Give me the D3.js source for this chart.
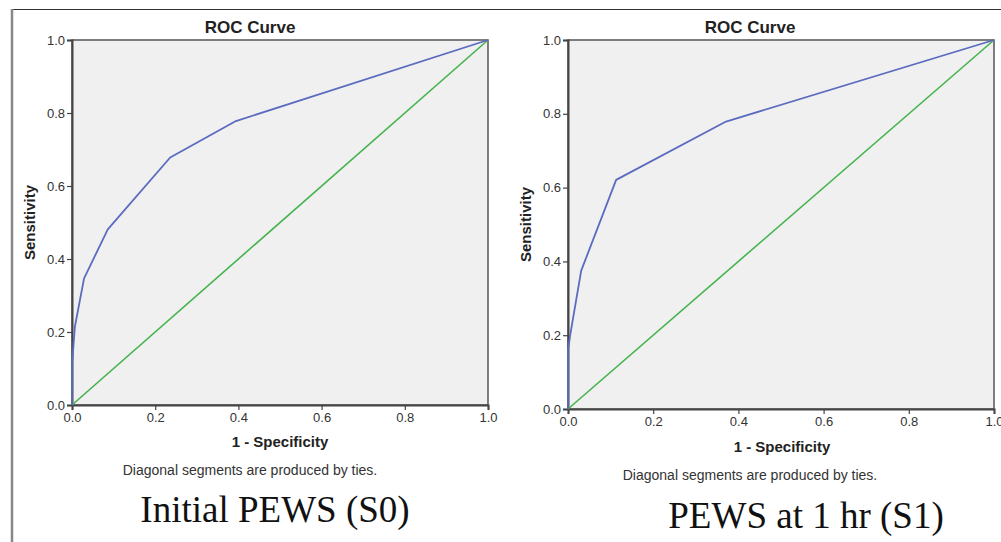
<!DOCTYPE html>
<html>
<head>
<meta charset="utf-8">
<script src="https://cdn.jsdelivr.net/npm/d3@7"></script>
<style>
  body { margin: 0; background: #fff; }
  svg { display: block; }
</style>
</head>
<body>
<svg id="canvas" width="1001" height="542"></svg>
<script>
// ticks shared by both axes
const tickValues = [0, 0.2, 0.4, 0.6, 0.8, 1.0];

// ROC points
const s0Fpr = [0, 0, 0.007, 0.029, 0.086, 0.236, 0.394, 1];
const s0Tpr = [0, 0.11, 0.215, 0.347, 0.481, 0.678, 0.778, 1];

const s1Fpr = [0, 0, 0.006, 0.031, 0.113, 0.371, 1];
const s1Tpr = [0, 0.16, 0.206, 0.375, 0.621, 0.779, 1];

const refLine = [0, 1];

const panelTitles = ['ROC Curve', 'ROC Curve'];
const captions = ['Initial PEWS (S0)', 'PEWS at 1 hr (S1)'];
const xLabel = '1 - Specificity';
const yLabel = 'Sensitivity';
const note = 'Diagonal segments are produced by ties.';

const svg = d3.select('#canvas');

// outer frame of the figure
svg.append('line')
  .attr('x1', 12).attr('x2', 1001).attr('y1', 9.5).attr('y2', 9.5)
  .attr('stroke', '#333').attr('stroke-width', 1);
svg.append('line')
  .attr('x1', 12).attr('x2', 12).attr('y1', 9).attr('y2', 542)
  .attr('stroke', '#888').attr('stroke-width', 2.5);

let panels = [
  { fpr: s0Fpr, tpr: s0Tpr, x0: 72, x1: 488, y0: 405, y1: 40, titleX: 250, ylabX: 35,
    xlabX: 280, xlabY: 447, noteX: 250, noteY: 475, capX: 275, capY: 522 },
  { fpr: s1Fpr, tpr: s1Tpr, x0: 568, x1: 994, y0: 409, y1: 40, titleX: 750, ylabX: 531,
    xlabX: 782, xlabY: 452, noteX: 750, noteY: 480, capX: 806, capY: 528 }
];

let drawPanel = (p, i) => {
  const x = d3.scaleLinear().domain([0, 1]).range([p.x0, p.x1]);
  const y = d3.scaleLinear().domain([0, 1]).range([p.y0, p.y1]);
  const g = svg.append('g');

  g.append('rect')
    .attr('x', p.x0).attr('y', p.y1)
    .attr('width', p.x1 - p.x0).attr('height', p.y0 - p.y1)
    .attr('fill', '#f0f0f0')
    .attr('stroke', '#555').attr('stroke-width', 1.5);

  const xAxis = g.append('g')
    .attr('transform', 'translate(0,' + p.y0 + ')')
    .call(d3.axisBottom(x).tickValues(tickValues).tickFormat(d3.format('.1f')).tickSize(5).tickPadding(3));
  const yAxis = g.append('g')
    .attr('transform', 'translate(' + p.x0 + ',0)')
    .call(d3.axisLeft(y).tickValues(tickValues).tickFormat(d3.format('.1f')).tickSize(5).tickPadding(2));

  [xAxis, yAxis].forEach((a) => {
    a.select('.domain').attr('stroke', '#444').attr('stroke-width', 2);
    a.selectAll('.tick line').attr('stroke', '#444').attr('stroke-width', 1.2);
    a.selectAll('.tick text')
      .attr('fill', '#333')
      .style('font-family', 'Liberation Sans, Arial, sans-serif')
      .style('font-size', '13px');
  });

  const line = d3.line()
    .x((d) => x(d[0]))
    .y((d) => y(d[1]));

  g.append('path')
    .datum(refLine.map((v) => [v, v]))
    .attr('d', line)
    .attr('fill', 'none')
    .attr('stroke', '#45b34d')
    .attr('stroke-width', 1.6);

  g.append('path')
    .datum(p.fpr.map((v, k) => [v, p.tpr[k]]))
    .attr('d', line)
    .attr('fill', 'none')
    .attr('stroke', '#5a6bc0')
    .attr('stroke-width', 1.8)
    .attr('stroke-linejoin', 'round');

  const sans = 'Liberation Sans, Arial, sans-serif';

  g.append('text')
    .attr('x', p.titleX).attr('y', 33)
    .attr('text-anchor', 'middle')
    .style('font-family', sans).style('font-weight', 'bold').style('font-size', '17px')
    .attr('fill', '#222')
    .text(panelTitles[i]);

  g.append('text')
    .attr('transform', 'translate(' + p.ylabX + ',' + (p.y0 + p.y1) / 2 + ') rotate(-90)')
    .attr('text-anchor', 'middle')
    .style('font-family', sans).style('font-weight', 'bold').style('font-size', '15px')
    .attr('fill', '#222')
    .text(yLabel);

  g.append('text')
    .attr('x', p.xlabX).attr('y', p.xlabY)
    .attr('text-anchor', 'middle')
    .style('font-family', sans).style('font-weight', 'bold').style('font-size', '15px')
    .attr('fill', '#222')
    .text(xLabel);

  g.append('text')
    .attr('x', p.noteX).attr('y', p.noteY)
    .attr('text-anchor', 'middle')
    .style('font-family', sans).style('font-size', '14px')
    .attr('fill', '#333')
    .text(note);

  g.append('text')
    .attr('x', p.capX).attr('y', p.capY)
    .attr('text-anchor', 'middle')
    .style('font-family', 'Liberation Serif, Times New Roman, serif').style('font-size', '37px')
    .attr('fill', '#111')
    .text(captions[i]);
};

panels.forEach(drawPanel);
</script>
</body>
</html>
